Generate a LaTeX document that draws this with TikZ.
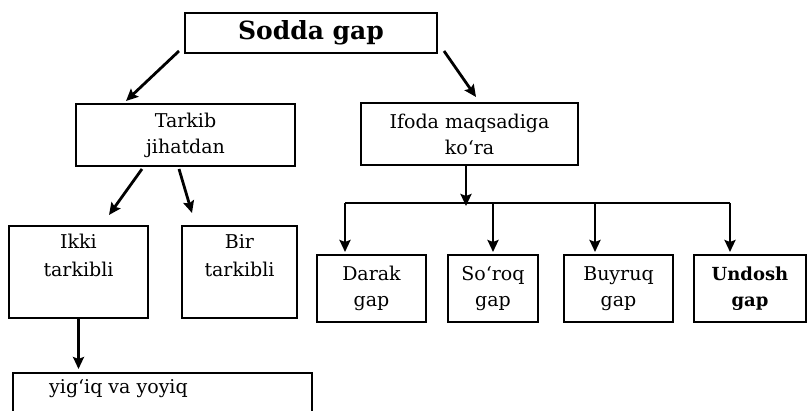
\documentclass[tikz,border=0pt]{standalone}
\usepackage{fontspec}
\setmainfont{DejaVu Serif}
\usetikzlibrary{arrows.meta,calc}
\begin{document}
\begin{tikzpicture}[x=1pt,y=-1pt,
  box/.style={draw=black,line width=2pt,rectangle,inner sep=0pt,align=center,font=\fontsize{19}{26}\selectfont},
  arr/.style={line width=2.8pt,-{Stealth[length=12pt,width=11pt,inset=2pt]}},
  bus/.style={line width=2.8pt},
  lbl/.style={inner sep=0pt,align=center,font=\fontsize{19}{28}\selectfont}]
\useasboundingbox (0,0) rectangle (809,411);
\clip (0,0) rectangle (809,411);
\node[box,minimum width=252pt,minimum height=40pt,font=\fontsize{25}{28}\selectfont\bfseries] (sodda) at (311,33) {Sodda gap};
\node[box,minimum width=219pt,minimum height=62pt] (tarkib) at (185.5,135) {Tarkib\\jihatdan};
\node[box,minimum width=217pt,minimum height=62pt] (ifoda) at (469.5,134) {Ifoda maqsadiga\\koʻra};
\node[box,minimum width=139pt,minimum height=92pt,label={[lbl,anchor=north,yshift=-9pt]north:Ikki\\tarkibli}] (ikki) at (78.5,272) {};
\node[box,minimum width=115pt,minimum height=92pt,label={[lbl,anchor=north,yshift=-9pt]north:Bir\\tarkibli}] (bir) at (239.5,272) {};
\node[box,minimum width=109pt,minimum height=67pt] (darak) at (371.5,288.5) {Darak\\gap};
\node[box,minimum width=90pt,minimum height=67pt] (soroq) at (493,288.5) {Soʻroq\\gap};
\node[box,minimum width=109pt,minimum height=67pt] (buyruq) at (618.5,288.5) {Buyruq\\gap};
\node[box,minimum width=112pt,minimum height=67pt,font=\fontsize{18}{26}\selectfont\bfseries] (undosh) at (750,288.5) {Undosh\\gap};
\node[box,minimum width=299pt,minimum height=60pt,label={[lbl,anchor=north west,xshift=37pt,yshift=-7pt]north west:yigʻiq va yoyiq}] (yig) at (162.5,403) {};
% connectors
\draw[arr] ([xshift=-5pt,yshift=3pt]sodda.south west) -- ([xshift=51pt,yshift=2pt]tarkib.north west);
\draw[arr] ([xshift=6pt,yshift=3pt]sodda.south east) -- ([xshift=116pt,yshift=5pt]ifoda.north west);
\draw[arr] ([xshift=67pt,yshift=-2pt]tarkib.south west) -- ([xshift=101pt,yshift=10pt]ikki.north west);
\draw[arr] ([xshift=104pt,yshift=-2pt]tarkib.south west) -- ([xshift=11pt,yshift=12pt]bir.north west);
\coordinate (busL) at (345,203);
\coordinate (busR) at (730,203);
\draw[arr] ([xshift=-3.5pt]ifoda.south) -- ([xshift=-3.5pt,yshift=-3pt]ifoda.south |- busL);
\draw[bus] (busL) -- (busR);
\draw[arr] (busL) -- ([yshift=2pt]darak.north -| busL);
\draw[arr] (soroq.north |- busL) -- ([yshift=2pt]soroq.north);
\draw[arr] ([xshift=-23.5pt]buyruq.north |- busL) -- ([xshift=-23.5pt,yshift=2pt]buyruq.north);
\draw[arr] (busR) -- ([yshift=2pt]undosh.north -| busR);
\draw[arr] (ikki.south) -- ([yshift=3pt]yig.north -| ikki.south);
\end{tikzpicture}
\end{document}
